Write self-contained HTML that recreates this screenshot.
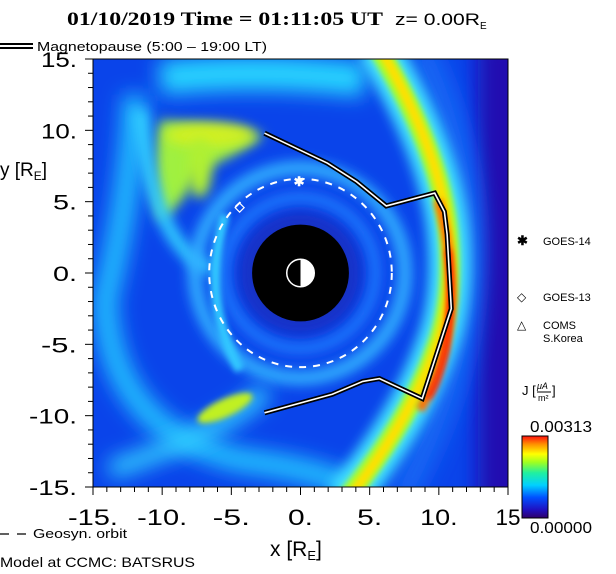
<!DOCTYPE html>
<html><head><meta charset="utf-8">
<style>
html,body{margin:0;padding:0;background:#fff;}
svg{display:block;}
text{font-family:"Liberation Sans",sans-serif;}
</style></head>
<body>
<svg id="chart" width="616" height="574" viewBox="0 0 616 574">
<defs>
  <clipPath id="plotclip"><rect x="93" y="59" width="415" height="428"/></clipPath>
  <filter id="b6" filterUnits="userSpaceOnUse" x="0" y="0" width="616" height="574"><feGaussianBlur stdDeviation="6"/></filter>
  <filter id="b3" filterUnits="userSpaceOnUse" x="0" y="0" width="616" height="574"><feGaussianBlur stdDeviation="3"/></filter>
  <filter id="b10" filterUnits="userSpaceOnUse" x="0" y="0" width="616" height="574"><feGaussianBlur stdDeviation="10"/></filter>
  <linearGradient id="cbar" x1="0" y1="1" x2="0" y2="0">
    <stop offset="0" stop-color="#30006a"/>
    <stop offset="0.1" stop-color="#2010c0"/>
    <stop offset="0.25" stop-color="#0050ff"/>
    <stop offset="0.4" stop-color="#00d0ff"/>
    <stop offset="0.55" stop-color="#20f0a0"/>
    <stop offset="0.68" stop-color="#a0ff20"/>
    <stop offset="0.78" stop-color="#ffff00"/>
    <stop offset="0.9" stop-color="#ff9000"/>
    <stop offset="1" stop-color="#ff1010"/>
  </linearGradient>
</defs>

<text x="67" y="25" font-weight="bold" font-size="19" textLength="316" lengthAdjust="spacingAndGlyphs" style="font-family:'Liberation Serif',serif">01/10/2019 Time = 01:11:05 UT</text>
<text x="395" y="25" font-size="17"><tspan textLength="85" lengthAdjust="spacingAndGlyphs">z= 0.00R</tspan><tspan font-size="10" dy="4">E</tspan></text>

<g>
  <line x1="0" y1="44" x2="33" y2="44" stroke="#000" stroke-width="2"/>
  <line x1="0" y1="48" x2="33" y2="48" stroke="#000" stroke-width="2"/>
  <text x="37" y="51" font-size="13" textLength="230" lengthAdjust="spacingAndGlyphs">Magnetopause (5:00 – 19:00 LT)</text>
</g>

<g clip-path="url(#plotclip)">
  <rect x="93" y="59" width="415" height="428" fill="#0a44ea"/>
  <rect x="478" y="40" width="60" height="470" fill="#2010b0" filter="url(#b10)"/>
  <path d="M420,45 Q530,270 400,500" stroke="#1468f4" stroke-width="26" fill="none" filter="url(#b10)"/>
  <path d="M160,78 Q260,68 365,80" stroke="#28d4ff" stroke-width="34" fill="none" filter="url(#b10)"/>
  <path d="M135,95 Q130,200 105,300 Q110,430 240,460 Q320,470 350,487" stroke="#22c0ff" stroke-width="24" fill="none" filter="url(#b10)"/>
  <path d="M160,120 Q220,125 265,135 Q230,160 200,170 Q180,210 160,220 Q150,170 160,120Z" fill="#a0f040" filter="url(#b6)"/>
  <ellipse cx="210" cy="135" rx="45" ry="12" fill="#d0f020" filter="url(#b6)"/>
  <ellipse cx="200" cy="168" rx="12" ry="30" fill="#b0f030" filter="url(#b6)"/>
  <path d="M140,110 Q150,240 210,270" stroke="#30d0ff" stroke-width="14" fill="none" filter="url(#b6)"/>
  <circle cx="300" cy="273" r="105" stroke="#30b0ff" stroke-width="14" fill="none" filter="url(#b6)"/>
  <circle cx="300" cy="273" r="75" stroke="#2080ff" stroke-width="10" fill="none" filter="url(#b6)"/>
  <circle cx="300" cy="273" r="62" fill="#1830c8" filter="url(#b6)"/>
  <path d="M225,215 Q200,300 240,370" stroke="#30c8ff" stroke-width="10" fill="none" filter="url(#b3)"/>
  <path d="M265,390 Q230,430 110,470" stroke="#30d0ff" stroke-width="18" fill="none" filter="url(#b10)"/>
  <ellipse cx="225" cy="408" rx="30" ry="9" transform="rotate(-25 225 408)" fill="#c0f020" filter="url(#b3)"/>
  <path d="M376,45 Q440,150 448,230 Q455,300 435,350 Q410,420 345,500" stroke="#40e0ff" stroke-width="42" fill="none" filter="url(#b6)"/>
  <path d="M376,45 Q440,150 448,230 Q455,300 435,350 Q410,420 345,500" stroke="#a0ff30" stroke-width="20" fill="none" filter="url(#b3)"/>
  <path d="M378,45 Q440,150 448,230 Q455,300 435,350 Q410,420 347,500" stroke="#ffe000" stroke-width="10" fill="none" filter="url(#b3)"/>
  <path d="M438,200 Q452,250 452,300 Q448,360 420,410" stroke="#ff7000" stroke-width="9" fill="none" filter="url(#b3)"/>
  <path d="M448,250 Q453,300 446,350 Q438,385 428,398" stroke="#ff1000" stroke-width="5" fill="none" filter="url(#b3)"/>
</g>
<rect x="93" y="59" width="415" height="428" fill="none" stroke="#000" stroke-width="1"/>

<g id="overlay" clip-path="url(#plotclip)"></g>
<g id="axes"></g>

<text x="0" y="176" font-size="19">y [R<tspan font-size="12" dy="4">E</tspan><tspan dy="-4">]</tspan></text>
<text x="270" y="556" font-size="21">x [R<tspan font-size="13" dy="4">E</tspan><tspan dy="-4">]</tspan></text>
<g>
  <line x1="0" y1="534" x2="27" y2="534" stroke="#000" stroke-width="1.2" stroke-dasharray="9,8"/>
  <text x="33" y="538" font-size="13" textLength="94" lengthAdjust="spacingAndGlyphs">Geosyn. orbit</text>
</g>
<text x="0" y="567" font-size="14" textLength="195" lengthAdjust="spacingAndGlyphs">Model at CCMC: BATSRUS</text>

<g>
  <text x="517" y="245" font-size="13" font-weight="bold">✱</text>
  <text x="543" y="245" font-size="11">GOES-14</text>
  <text x="517" y="301" font-size="12">◇</text>
  <text x="543" y="301" font-size="11">GOES-13</text>
  <text x="517" y="329" font-size="12">△</text>
  <text x="543" y="329" font-size="11">COMS</text>
  <text x="543" y="342" font-size="11">S.Korea</text>
</g>

<g>
  <text x="522" y="395" font-size="13">J [</text>
  <text x="537" y="389" font-size="9" font-style="italic">μA</text>
  <line x1="537" y1="392" x2="551" y2="392" stroke="#000"/>
  <text x="538" y="401" font-size="9">m²</text>
  <text x="552" y="395" font-size="13">]</text>
  <text x="530" y="432" font-size="16" textLength="62" lengthAdjust="spacingAndGlyphs">0.00313</text>
  <rect x="522" y="436" width="26" height="82" fill="url(#cbar)" stroke="#000" stroke-width="1"/>
  <text x="530" y="533" font-size="16" textLength="62" lengthAdjust="spacingAndGlyphs">0.00000</text>
</g>

<script>
var xTicks=[-15,-10,-5,0,5,10,15];
var xTickLabels=['-15.','-10.','-5.','0.','5.','10.','15'];
var yTicks=[15,10,5,0,-5,-10,-15];
var yTickLabels=['15.','10.','5.','0.','-5.','-10.','-15.'];
var mpX=[-2.6,1.95,4.05,6.2,9.7,10.4,10.6,10.9,10.6,8.8,5.7,4.5,2.3,-2.6];
var mpY=[9.8,7.7,6.4,4.7,5.6,4.3,2.7,-2.5,-3.4,-8.8,-7.4,-7.6,-8.5,-9.8];
var geoRadius=[6.6];
var earthShade=[3.5];
var satNames=['GOES-14','GOES-13'];
var satX=[-0.1,-4.4];
var satY=[6.45,4.7];

var X0=93,X1=508,Y0=487,Y1=59;
function sx(v){return X0+(v+15)/30*(X1-X0);}
function sy(v){return Y0-(v+15)/30*(Y0-Y1);}
var NS='http://www.w3.org/2000/svg';
function mk(tag,attrs,parent){var e=document.createElementNS(NS,tag);for(var k in attrs)e.setAttribute(k,attrs[k]);parent.appendChild(e);return e;}
var axes=document.getElementById('axes'),ov=document.getElementById('overlay');

for(var v=-15;v<=15;v++){
  var major=(v%5===0);
  var t=mk('line',{x1:sx(v),x2:sx(v),y1:Y0,y2:Y0+(major?8:5),stroke:'#000'},axes);
  
  
  var u=mk('line',{x1:X0-(major?8:5),x2:X0,y1:sy(v),y2:sy(v),stroke:'#000'},axes);
  
  
}
xTicks.forEach(function(v,i){
  var lab=xTickLabels[i];
  var w=lab.length*12.5;
  var t=mk('text',{x:sx(v)-w/2,y:525,'font-size':22,textLength:w,lengthAdjust:'spacingAndGlyphs'},axes);
  t.textContent=lab;
  
  
});
yTicks.forEach(function(v,i){
  var lab=yTickLabels[i];
  var w=lab.length*12;
  var t=mk('text',{x:77-w,y:sy(v)+8,'font-size':21,textLength:w,lengthAdjust:'spacingAndGlyphs'},axes);
  t.textContent=lab;
  
  
});

var cx=sx(0),cy=sy(0),pxu=(X1-X0)/30;
var shade=mk('circle',{cx:cx,cy:cy,r:earthShade[0]*pxu,fill:'#000'},ov);


var earth=mk('circle',{cx:cx,cy:cy,r:14,fill:'#fff',stroke:'#fff'},ov);


var night=mk('path',{d:'M'+cx+','+(cy-13)+' A13,13 0 0 0 '+cx+','+(cy+13)+'Z',fill:'#000'},ov);


var geo=mk('ellipse',{cx:cx,cy:cy,rx:geoRadius[0]*pxu,ry:geoRadius[0]*(Y0-Y1)/30,fill:'none',stroke:'#fff','stroke-width':2,'stroke-dasharray':'7,7'},ov);



var pts=mpX.map(function(x,i){return sx(x)+','+sy(mpY[i]);}).join(' ');
var mp1=mk('polyline',{points:pts,fill:'none',stroke:'#000','stroke-width':5,'stroke-linejoin':'miter'},ov);


var mp2=mk('polyline',{points:pts,fill:'none',stroke:'#fff','stroke-width':1.6},ov);



var glyphs=['✱','◇'];
satX.forEach(function(x,i){
  var t=mk('text',{x:sx(x),y:sy(satY[i])+5,'font-size':13,'font-weight':'bold',fill:'#fff','text-anchor':'middle'},ov);
  t.textContent=glyphs[i];
  
  
});
</script>
</svg>
</body></html>
